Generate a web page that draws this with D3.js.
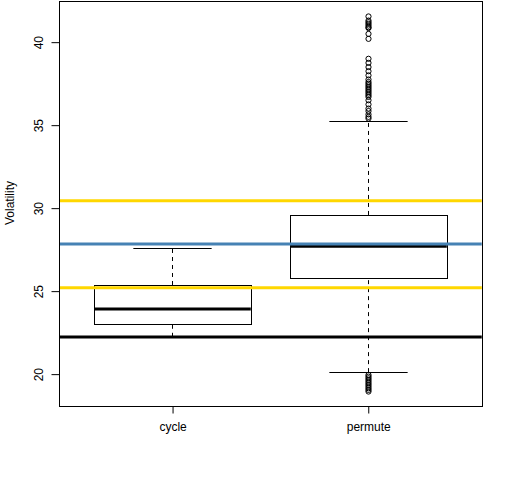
<!DOCTYPE html>
<html>
  <head>
    <meta charset="utf-8" />
    <title>Volatility boxplot</title>
    <script src="https://d3js.org/d3.v7.min.js"></script>
    <style>
        body { margin: 0; background: #fff; }
        text { font-family: "Liberation Sans", Arial, sans-serif; font-size: 12px; fill: #000; }
    </style>
  </head>
<body>
    <svg id="chart" width="512" height="480"></svg>

    <script>
        // box statistics: lower whisker, q1, median, q3, upper whisker
        var categories = ["cycle", "permute"];
        var cycleStats = [22.25, 23.03, 23.92, 25.37, 27.62];
        var permuteStats = [20.12, 25.79, 27.70, 29.59, 35.26];
        var permuteOutliers = [41.55, 41.3, 41.2, 41.1, 41.0, 40.9, 40.85, 40.5, 40.2,
            39.0, 38.75, 38.5, 38.25, 38.0, 37.75, 37.6, 37.5, 37.4, 37.3, 37.2, 37.1,
            37.0, 36.9, 36.8, 36.7, 36.5, 36.25, 36.0, 35.85, 35.65, 35.5, 35.4,
            19.95, 19.85, 19.75, 19.65, 19.55, 19.45, 19.35, 19.25, 19.15, 19.05, 18.95];
        var cycleOutliers = [];
        var refValues = [30.45, 27.84, 25.2, 22.23];
        var refColors = ["#FFD700", "#4682B4", "#FFD700", "#000000"];
        var yTicks = [20, 25, 30, 35, 40];

        var boxes = [
            { name: categories[0], stats: cycleStats, out: cycleOutliers },
            { name: categories[1], stats: permuteStats, out: permuteOutliers }
        ];

        var svg = d3.select("#chart");
        var plotLeft = 59.04, plotRight = 481.76, plotTop = 1.44, plotBottom = 406.56;

        // R style ranges: 4% extension
        var allVals = cycleStats.concat(permuteStats, permuteOutliers);
        var lo = d3.min(allVals), hi = d3.max(allVals);
        var pad = (hi - lo) * 0.04;
        var y = d3.scaleLinear().domain([lo - pad, hi + pad]).range([plotBottom, plotTop]);
        var xpad = categories.length * 0.04;
        var x = d3.scaleLinear()
            .domain([0.5 - xpad, categories.length + 0.5 + xpad])
            .range([plotLeft, plotRight]);

        var g = svg.append("g");

        boxes.forEach(function(b, i) {
            var cx = Math.floor(x(i + 1)) + 0.5;
            var bw = x(1.4) - x(1);
            var cw = x(1.2) - x(1);
            var s = b.stats;

            // whiskers
            g.append("line")
                .attr("x1", cx).attr("x2", cx)
                .attr("y1", y(s[0])).attr("y2", y(s[1]))
                .attr("stroke", "#000").attr("stroke-dasharray", "4,4");
            g.append("line")
                .attr("x1", cx).attr("x2", cx)
                .attr("y1", y(s[3])).attr("y2", y(s[4]))
                .attr("stroke", "#000").attr("stroke-dasharray", "4,4");
            [s[0], s[4]].forEach(function(v) {
                g.append("line")
                    .attr("x1", cx - cw).attr("x2", cx + cw)
                    .attr("y1", Math.round(y(v)) + 0.5).attr("y2", Math.round(y(v)) + 0.5)
                    .attr("stroke", "#000");
            });

            // box
            g.append("rect")
                .attr("x", Math.round(cx - bw) + 0.5).attr("width", Math.round(2 * bw))
                .attr("y", Math.round(y(s[3])) + 0.5)
                .attr("height", Math.round(y(s[1])) - Math.round(y(s[3])))
                .attr("fill", "#fff").attr("stroke", "#000");
            g.append("line")
                .attr("x1", cx - bw).attr("x2", cx + bw)
                .attr("y1", y(s[2])).attr("y2", y(s[2]))
                .attr("stroke", "#000").attr("stroke-width", 3);

            // outliers
            g.selectAll(null).data(b.out).enter().append("circle")
                .attr("cx", cx)
                .attr("cy", function(d) { return y(d); })
                .attr("r", 2.6)
                .attr("fill", "none")
                .attr("stroke", "#000");
        });

        // reference lines
        svg.selectAll(".ref").data(refValues).enter().append("line")
            .attr("class", "ref")
            .attr("x1", plotLeft).attr("x2", plotRight)
            .attr("y1", function(d) { return y(d); })
            .attr("y2", function(d) { return y(d); })
            .attr("stroke", function(d, i) { return refColors[i]; })
            .attr("stroke-width", 3);

        // frame
        svg.append("rect")
            .attr("x", Math.round(plotLeft) + 0.5).attr("y", Math.round(plotTop) + 0.5)
            .attr("width", Math.round(plotRight - plotLeft))
            .attr("height", Math.round(plotBottom - plotTop))
            .attr("fill", "none").attr("stroke", "#000");

        // y axis
        var yAxis = svg.append("g")
            .attr("transform", "translate(" + (Math.round(plotLeft) + 0.5) + ",0)")
            .call(d3.axisLeft(y).tickValues(yTicks).tickSize(8).tickSizeOuter(0));
        yAxis.select(".domain").remove();
        yAxis.selectAll("line").attr("stroke", "#000");
        yAxis.selectAll("text")
            .attr("x", 0).attr("dy", 0)
            .attr("transform", "translate(-17,0) rotate(-90)")
            .attr("text-anchor", "middle")
            .style("font-size", "12px")
            .style("font-family", "Liberation Sans, Arial, sans-serif")
            .attr("fill", "#000");

        // x axis
        var xAxis = svg.append("g")
            .attr("transform", "translate(0," + (Math.round(plotBottom) - 0.5) + ")")
            .call(d3.axisBottom(x).tickValues([1, 2]).tickSize(7)
                .tickFormat(function(d) { return categories[d - 1]; }));
        xAxis.select(".domain").remove();
        xAxis.selectAll("line").attr("stroke", "#000");
        xAxis.selectAll("text")
            .attr("y", 24).attr("dy", 0)
            .style("font-size", "12px")
            .style("font-family", "Liberation Sans, Arial, sans-serif")
            .attr("fill", "#000");

        svg.append("text")
            .attr("transform", "translate(14,203) rotate(-90)")
            .attr("text-anchor", "middle")
            .text("Volatility");
    </script>
</body>
</html>
